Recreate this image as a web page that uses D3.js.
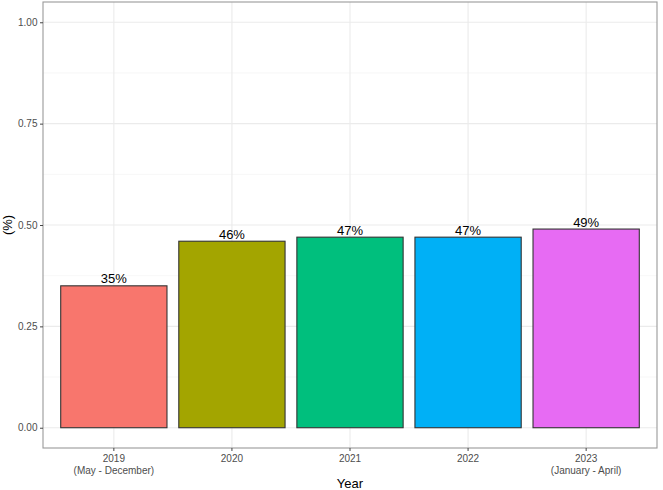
<!DOCTYPE html>
<html><head><meta charset="utf-8">
<script src="https://cdn.jsdelivr.net/npm/d3@7"></script>
<style>body{margin:0;background:#fff}svg{display:block;font-family:"Liberation Sans",Arial,sans-serif}</style>
</head><body><svg id="c" width="663" height="490"></svg>
<script>
const categories = ["2019", "2020", "2021", "2022", "2023"];
const subLabels = ["(May - December)", "", "", "", "(January - April)"];
const values = [0.35, 0.46, 0.47, 0.47, 0.49];
const valueLabels = ["35%", "46%", "47%", "47%", "49%"];
const colors = ["#F8766D", "#A3A500", "#00BF7D", "#00B0F6", "#E76BF3"];
const yTicks = [0, 0.25, 0.5, 0.75, 1];
const yMinor = [0.125, 0.375, 0.625, 0.875];

const svg = d3.select("#c");
const L = 43, R = 657, T = 2, B = 448;
const step = (R - L) / (categories.length - 1 + 1.2);
const x = d3.scaleBand().domain(categories).range([L + 0.1*step, R - 0.1*step]).paddingInner(0.1).paddingOuter(0.05);
const y = d3.scaleLinear().domain([-0.05, 1.05]).range([B, T]);
const cx = d => x(d) + x.bandwidth()/2;

// grid
svg.append("g").selectAll("line").data(yMinor).join("line")
  .attr("x1", L).attr("x2", R).attr("y1", d => y(d)).attr("y2", d => y(d))
  .attr("stroke", "#F2F2F2").attr("stroke-width", 0.6);
svg.append("g").selectAll("line").data(yTicks).join("line")
  .attr("x1", L).attr("x2", R).attr("y1", d => y(d)).attr("y2", d => y(d))
  .attr("stroke", "#EBEBEB").attr("stroke-width", 1.1);
svg.append("g").selectAll("line").data(categories).join("line")
  .attr("x1", cx).attr("x2", cx).attr("y1", T).attr("y2", B)
  .attr("stroke", "#EBEBEB").attr("stroke-width", 1.1);

// bars
svg.append("g").selectAll("rect").data(categories).join("rect")
  .attr("x", d => x(d)).attr("width", x.bandwidth())
  .attr("y", (d,i) => y(values[i])).attr("height", (d,i) => y(0) - y(values[i]))
  .attr("fill", (d,i) => colors[i]).attr("stroke", "#333").attr("stroke-width", 1.1);

svg.append("g").selectAll("text").data(categories).join("text")
  .attr("x", cx).attr("y", (d,i) => y(values[i]) - 2.5)
  .attr("text-anchor", "middle").attr("font-size", 13).attr("fill", "#000")
  .text((d,i) => valueLabels[i]);

// border
svg.append("rect").attr("x", L).attr("y", T).attr("width", R-L).attr("height", B-T)
  .attr("fill", "none").attr("stroke", "#9a9a9a").attr("stroke-width", 1.1);

// y axis
const ya = svg.append("g").attr("transform", `translate(${L},0)`)
  .call(d3.axisLeft(y).tickValues(yTicks).tickFormat(d3.format(".2f")).tickSize(3).tickPadding(2.5));
ya.select(".domain").remove();
ya.selectAll("line").attr("stroke", "#444");
ya.selectAll("text").attr("font-size", 10).attr("fill", "#4d4d4d").attr("font-family", "Liberation Sans, Arial, sans-serif");

// x axis
const xa = svg.append("g").attr("transform", `translate(0,${B})`)
  .call(d3.axisBottom(x).tickSize(3).tickPadding(2));
xa.select(".domain").remove();
xa.selectAll("line").attr("stroke", "#444");
xa.selectAll("text").remove();
const xt = svg.append("g").selectAll("text").data(categories).join("text")
  .attr("x", cx).attr("y", 462).attr("text-anchor", "middle")
  .attr("font-size", 10).attr("fill", "#4d4d4d");
xt.append("tspan").attr("x", cx).text(d => d);
xt.append("tspan").attr("x", cx).attr("dy", 11.5).text((d,i) => subLabels[i]);

// titles
svg.append("text").attr("x", (L+R)/2).attr("y", 488).attr("text-anchor", "middle")
  .attr("font-size", 13).attr("fill", "#000").text("Year");
svg.append("text").attr("transform", `translate(12,${(T+B)/2}) rotate(-90)`)
  .attr("text-anchor", "middle").attr("font-size", 13).attr("fill", "#000").text("(%)");
</script></body></html>
